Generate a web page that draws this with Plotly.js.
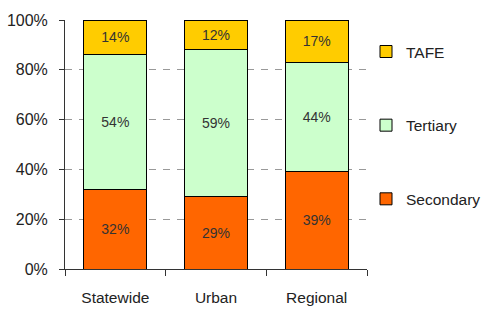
<!DOCTYPE html>
<html><head><meta charset="utf-8">
<script src="https://cdn.plot.ly/plotly-3.0.1.min.js"></script>
<style>html,body{margin:0;padding:0;background:#fff}#chart{width:482px;height:312px}</style>
</head><body><div id="chart"></div>
<script>
const categories = ['Statewide', 'Urban', 'Regional'];
const seriesNames = ['Secondary', 'Tertiary', 'TAFE'];
const secondary = [32, 29, 39];
const tertiary = [54, 59, 44];
const tafe = [14, 12, 17];
const yTicks = [0, 20, 40, 60, 80, 100];
const yTickLabels = ['0%', '20%', '40%', '60%', '80%', '100%'];

const colors = ['#FF6600', '#CCFFCC', '#FFCC00'];
const values = [secondary, tertiary, tafe];
const FONT = 'Liberation Sans, Arial, sans-serif';

const traces = values.map((v, i) => ({
  type: 'bar', x: categories, y: v, name: seriesNames[i],
  legendgroup: seriesNames[i], legendrank: 3 - i,
  marker: {color: colors[i], line: {color: '#000', width: 1}},
  text: v.map(d => d + '%'), textposition: 'inside', insidetextanchor: 'middle',
  textfont: {family: FONT, size: 14, color: '#333'}, constraintext: 'none',
  hoverinfo: 'none'
}));

const L = 65, R = 115, W = 482;
const paperW = W - L - R;
const layout = {
  width: 482, height: 312,
  margin: {l: L, r: R, t: 19.5, b: 43, autoexpand: false},
  paper_bgcolor: '#fff', plot_bgcolor: '#fff',
  barmode: 'stack', bargap: 0.375,
  font: {family: FONT, size: 16, color: '#222'},
  xaxis: {
    showline: true, linecolor: '#333', linewidth: 1,
    ticks: 'outside', tickson: 'boundaries', ticklen: 6, tickcolor: '#333',
    showgrid: false, ticklabelstandoff: 14,
    tickfont: {family: FONT, size: 15.5, color: '#222'}
  },
  yaxis: {
    range: [0, 100], tickvals: yTicks, ticktext: yTickLabels,
    showline: true, linecolor: '#333', linewidth: 1,
    ticks: 'outside', ticklen: 5, tickcolor: '#333',
    showgrid: true, gridcolor: '#999', griddash: '7px,7px', gridwidth: 1,
    zeroline: false, ticklabelstandoff: 8,
    tickfont: {family: FONT, size: 16, color: '#222'}
  },
  showlegend: true,
  legend: {
    x: (366 - L) / paperW, xanchor: 'left', y: 0.94, yanchor: 'top',
    traceorder: 'grouped', tracegroupgap: 50.5,
    font: {family: FONT, size: 15.5, color: '#222'},
    bgcolor: 'rgba(0,0,0,0)', borderwidth: 0
  }
};

Plotly.newPlot('chart', traces, layout, {staticPlot: true, displayModeBar: false});
</script></body></html>
